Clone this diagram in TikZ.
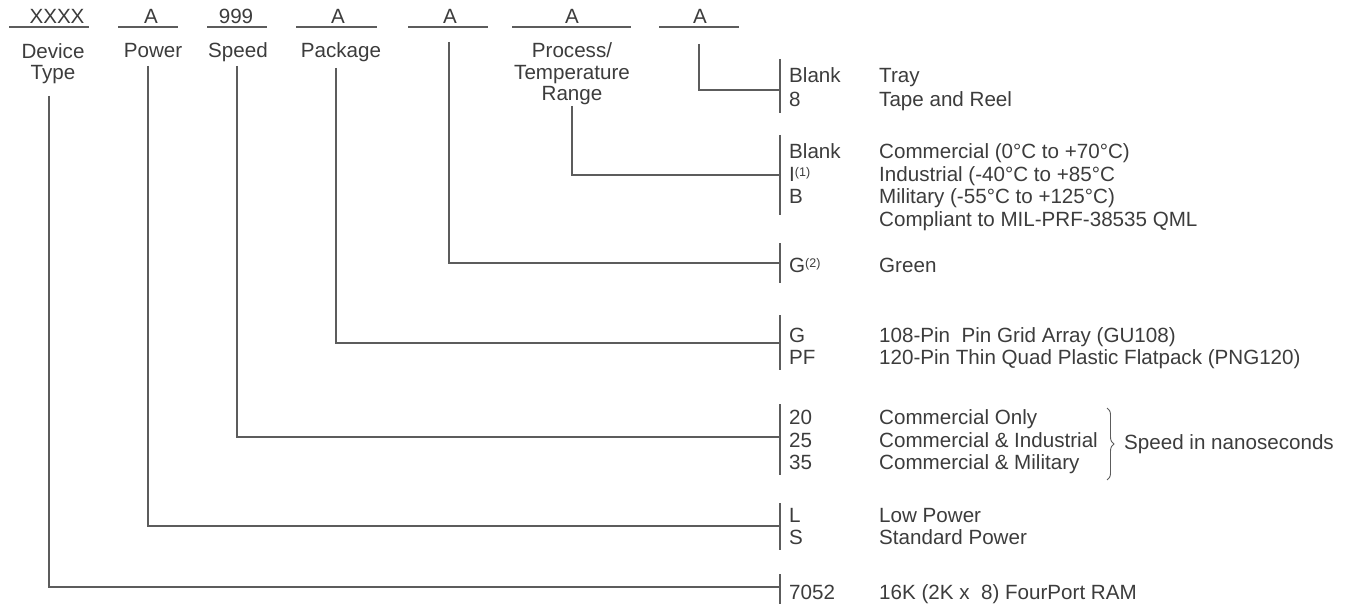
\documentclass[tikz,border=0pt]{standalone}
\usepackage{fontspec}
\setmainfont{Liberation Sans}
\usetikzlibrary{decorations.pathreplacing}
\definecolor{inkgray}{HTML}{3C3C3C}
\definecolor{rulegray}{HTML}{5C5C5C}
\newcommand{\noteref}[1]{\raisebox{4.5pt}{\fontsize{12.5}{12.5}\selectfont(#1)}}

\begin{document}
\begin{tikzpicture}[x=1pt,y=-1pt,font=\fontsize{20.6}{21.5}\selectfont,text=inkgray]
    \tikzstyle{field}=[inner sep=0pt, anchor=base]
    \tikzstyle{fieldname}=[inner sep=0pt, anchor=base, align=center]
    \tikzstyle{optcode}=[inner sep=0pt, anchor=base west]
    \tikzstyle{optdesc}=[optcode]
    \tikzstyle{wire}=[draw=rulegray, line width=1.2pt]

    \useasboundingbox (0,0) rectangle (1348,604);

    % Draw the part number fields and their underlines
    \foreach \name / \tx / \lx / \hw / \txt in {dev/57/49/40/XXXX, pow/151/148/30/A,
            spd/236/237/30/999, pkg/338/336.5/40.5/A, grn/450/448/40/A,
            prc/572/571.5/59.5/A, pck/700/699/40/A} {
        \node[field] (f-\name) at (\tx,24) {\txt};
        \draw[wire] (\lx-\hw,27) -- (\lx+\hw,27);
    }

    % Draw the field names (base is the last line)
    \node[fieldname] (n-dev) at (53,80) {Device\\Type};
    \node[fieldname] (n-pow) at (153,58) {Power};
    \node[fieldname] (n-spd) at (238,58) {Speed};
    \node[fieldname] (n-pkg) at (341,58) {Package};
    \node[fieldname] (n-prc) at (572,101) {Process/\\Temperature\\Range};

    % Connect every field with the bracket of its options
    \foreach \name / \lx / \ytop / \yh / \ba / \bb in {pck/699/44/90/59/113,
            prc/572/106/175/135/215, grn/449/42/263/243/283, pkg/336/68/343/315/370,
            spd/237/66/437/404/475, pow/148/66/526/503/550, dev/49/96/587/574/604} {
        \coordinate (t-\name) at (\lx,\ytop);
        \coordinate (b-\name) at (780,\yh);
        \draw[wire] (t-\name) |- (b-\name);
        \draw[wire] (780,\ba) -- (780,\bb);
    }

    % Draw the option codes and their meaning
    \foreach \name / \y / \c / \d in {tray/83/Blank/Tray, reel/106.5/8/Tape and Reel,
            com/159/Blank/Commercial (0°C to +70°C),
            ind/181.5/I\noteref{1}/Industrial (-40°C to +85°C,
            mil/204/B/Military (-55°C to +125°C),
            grn/272/G\noteref{2}/Green,
            pga/342.5/G/108-Pin\ \ Pin Grid Array (GU108),
            pqf/364/PF/120-Pin Thin Quad Plastic Flatpack (PNG120),
            s20/424/20/Commercial Only, s25/447/25/Commercial \& Industrial,
            s35/469/35/Commercial \& Military,
            lp/522/L/Low Power, sp/544/S/Standard Power,
            ram/599/7052/16K (2K x\ \ 8) FourPort RAM} {
        \node[optcode] (c-\name) at (789,\y) {\c};
        \node[optdesc] (d-\name) at (879,\y) {\d};
    }
    \node[optdesc] (d-qml) at (879,226) {Compliant to MIL-PRF-38535 QML};

    % Brace for the speed grades
    \draw[draw=rulegray, line width=0.9pt, decorate, decoration={brace, amplitude=7pt}]
        (1107,408) -- (1107,480);
    \node[optcode] (n-ns) at (1124,449) {Speed in nanoseconds};

\end{tikzpicture}
\end{document}
